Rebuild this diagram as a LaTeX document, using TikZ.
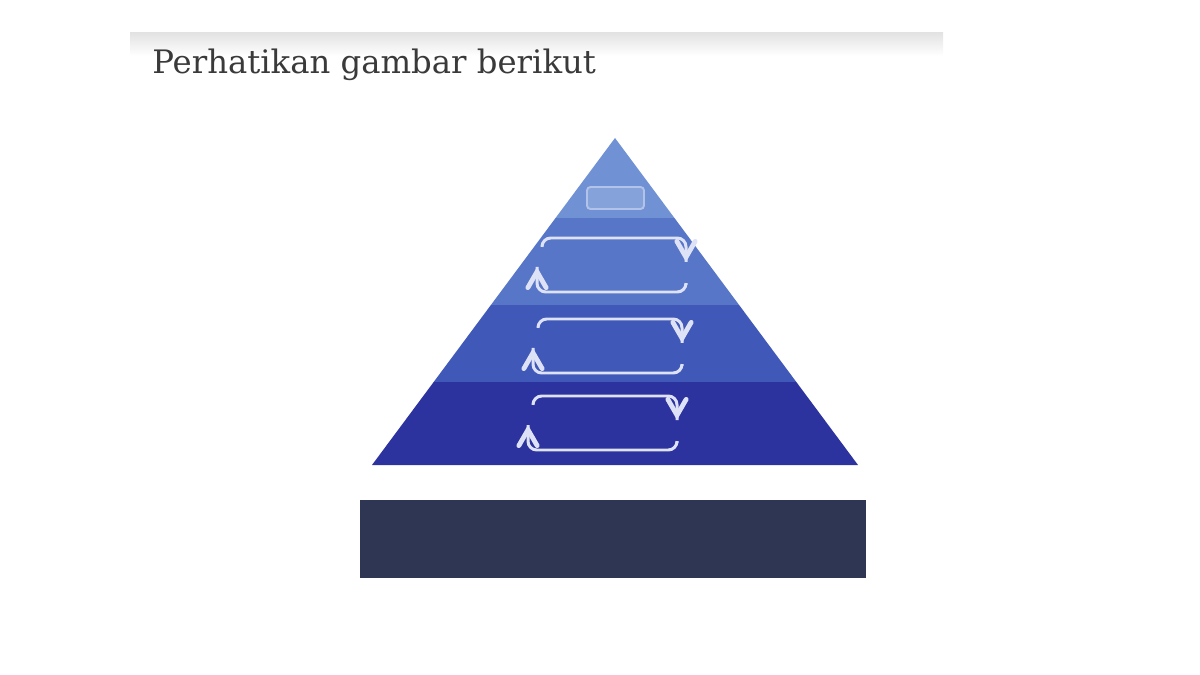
\documentclass[tikz,border=0pt]{standalone}
\usepackage{fontspec}
\setmainfont{DejaVu Serif}
\usetikzlibrary{arrows}
\usetikzlibrary{decorations.markings}
\usetikzlibrary{positioning}
\tikzset{cyc/.style = {draw=loopwhite, line width=1.7pt, rounded corners=5pt,
                       decoration={markings,
                                   mark=at position 1 with {\arrow[scale=1.6]{angle 60}}},
                       postaction={decorate}}}
\definecolor{tierA}{RGB}{112,146,212}
\definecolor{tierB}{RGB}{88,118,200}
\definecolor{tierC}{RGB}{64,88,184}
\definecolor{tierD}{RGB}{44,50,158}
\definecolor{baseblue}{RGB}{46,54,84}
\definecolor{loopwhite}{RGB}{222,226,246}
\definecolor{titlegray}{RGB}{58,58,58}

\begin{document}
\begin{tikzpicture}[x=0.02cm, y=-0.02cm]
      \useasboundingbox (0, 0) rectangle (1200, 675);
      \shade [top color=black!11, bottom color=white] (130, 33) rectangle (943, 56);
      \node (title) [anchor=base west, inner sep=0, text=titlegray,
                     font=\fontsize{18.4}{22}\selectfont] at (152, 74) {Perhatikan gambar berikut};
      % pyramid, cut into four bands
      \begin{scope}
        \clip (615, 138) -- (858, 465) -- (372, 465) -- cycle;
        \foreach \yt/\yb/\col in {130/218/tierA, 218/305/tierB, 305/382/tierC, 382/470/tierD}
          \fill [\col] (360, \yt) rectangle (870, \yb);
      \end{scope}
      \draw [loopwhite!60!tierA, fill=tierA!85!white, line width=1.1pt, rounded corners=2pt]
            (587, 187) rectangle (644, 209);
      \foreach \yt/\yb/\xl/\xr in {238/292/542/686, 319/373/538/682, 396/450/533/677} {
        \draw [cyc] (\xl, \yt+7) -- (\xl, \yt) -- (\xr, \yt) -- (\xr, \yt+24);
        \draw [cyc] (\xr, \yb-7) -- (\xr, \yb) -- (\xl-5, \yb) -- (\xl-5, \yb-25);
      }
      \fill [baseblue] (360, 500) rectangle (866, 578);
    \end{tikzpicture}
\end{document}
